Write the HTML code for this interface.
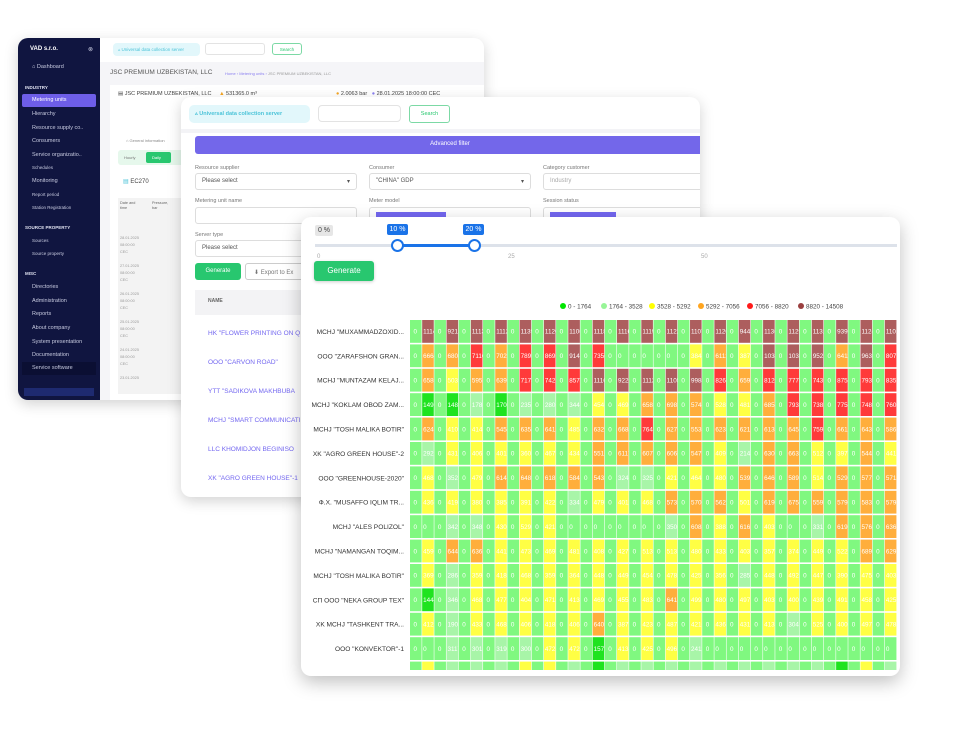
<!DOCTYPE html>
<html><head><meta charset="utf-8">
<style>
*{box-sizing:border-box;margin:0;padding:0}
body{width:960px;height:740px;background:#fff;position:relative;overflow:hidden;font-family:"Liberation Sans",sans-serif;color:#444}
.abs{position:absolute}
.panel{position:absolute;background:#fff;border-radius:10px;box-shadow:0 4px 14px rgba(0,0,0,.18);overflow:hidden}
.side{position:absolute;left:0;top:0;width:82px;height:100%;background:#101540;color:#c8cbe0;font-size:5.5px}
.side div{position:absolute;left:14px;white-space:nowrap}
.side .sec{font-size:4.5px;font-weight:bold;left:7px;color:#e0e2f0}
.lbl{font-size:5.5px;color:#777;position:absolute}
.sel{position:absolute;border:1px solid #ddd;border-radius:3px;font-size:6px;color:#555;padding:4px 6px;background:#fff}
.link{position:absolute;font-size:6.5px;color:#7367f0;white-space:nowrap}
.badge{position:absolute;height:11px;border-radius:2px;font-size:7px;text-align:center;line-height:11px}
</style></head><body>

<!-- Panel A -->
<div class="panel" style="left:18px;top:38px;width:466px;height:362px;background:#f5f5f8">
 <div class="side">
  <div style="top:8px;left:12px;font-size:6px;color:#fff;font-weight:bold">VAD s.r.o.</div>
  <div style="top:8px;left:70px;font-size:6px">⊗</div>
  <div style="top:26px">⌂ Dashboard</div>
  <div class="sec" style="top:47px">INDUSTRY</div>
  <div style="top:56px;left:4px;width:74px;height:13px;background:#6e5ee8;border-radius:2px;padding:3px 0 0 10px;color:#fff">Metering units</div>
  <div style="top:73px">Hierarchy</div>
  <div style="top:87px">Resource supply co..</div>
  <div style="top:100px">Consumers</div>
  <div style="top:114px">Service organizatio..</div>
  <div style="top:127px;font-size:4.5px">Schedules</div>
  <div style="top:140px">Monitoring</div>
  <div style="top:154px;font-size:4.5px">Report period</div>
  <div style="top:167px;font-size:4.5px">Station Registration</div>
  <div class="sec" style="top:187px">SOURCE PROPERTY</div>
  <div style="top:200px;font-size:4.5px">Sources</div>
  <div style="top:213px;font-size:4.5px">Source property</div>
  <div class="sec" style="top:233px">MISC</div>
  <div style="top:246px">Directories</div>
  <div style="top:260px">Administration</div>
  <div style="top:273px">Reports</div>
  <div style="top:287px">About company</div>
  <div style="top:301px">System presentation</div>
  <div style="top:314px">Documentation</div>
  <div style="top:324px;left:4px;width:74px;height:13px;background:#0b0f33;padding:3px 0 0 10px">Service software</div>
  <div style="top:350px;left:6px;width:70px;height:8px;background:#1e2a70"></div>
 </div>
 <div class="abs" style="left:82px;top:0;width:384px;height:24px;background:#fff"></div>
 <div class="abs" style="left:95px;top:5px;width:87px;height:13px;background:#e2f7fb;border-radius:4px;font-size:4.5px;color:#4bc3d8;padding:4px 5px">▵ Universal data collection server</div>
 <div class="abs" style="left:187px;top:5px;width:60px;height:12px;border:1px solid #e3e3e3;border-radius:3px;background:#fff"></div>
 <div class="abs" style="left:254px;top:5px;width:30px;height:12px;border:1px solid #7cd9a5;border-radius:3px;font-size:4.5px;color:#28c76f;text-align:center;padding-top:3px">Search</div>
 <div class="abs" style="left:92px;top:31px;font-size:6.5px;color:#555">JSC PREMIUM UZBEKISTAN, LLC</div>
 <div class="abs" style="left:207px;top:33px;font-size:4px;color:#8a7ff0">Home › Metering units › <span style="color:#999">JSC PREMIUM UZBEKISTAN, LLC</span></div>
 <div class="abs" style="left:92px;top:47px;width:374px;height:320px;background:#fff"></div>
 <div class="abs" style="left:100px;top:53px;font-size:5.5px;color:#444">▤ JSC PREMIUM UZBEKISTAN, LLC &nbsp;&nbsp;&nbsp; <span style="color:#f5a623">▲</span> 531365.0 m³</div>
 <div class="abs" style="left:318px;top:53px;font-size:5.5px;color:#444"><span style="color:#f5a623">●</span> 2.0063 bar &nbsp; <span style="color:#8a7ff0">●</span> 28.01.2025 18:00:00 CEC</div>
 <div class="abs" style="left:108px;top:100px;font-size:4px;color:#888">⌂ General information</div>
 <div class="abs" style="left:100px;top:112px;width:70px;height:15px;background:#e6f8ec;border-radius:3px"></div>
 <div class="abs" style="left:106px;top:117px;font-size:4px;color:#777">Hourly</div>
 <div class="abs" style="left:128px;top:114px;width:25px;height:11px;background:#28c76f;border-radius:2px;font-size:4px;color:#fff;padding:3px 6px">Daily</div>
 <div class="abs" style="left:105px;top:140px;font-size:6px;color:#4bc3d8">▤ <span style="color:#444">EC270</span></div>
 <div class="abs" style="left:100px;top:160px;width:63px;height:196px;background:#f3f3f3"></div>
 <div class="abs" style="left:102px;top:163px;font-size:3.8px;color:#666;line-height:5px">Date and<br>time</div>
 <div class="abs" style="left:134px;top:163px;font-size:3.8px;color:#666;line-height:5px">Pressure,<br>bar</div>
 <div class="abs" style="left:102px;top:197px;font-size:3.8px;color:#999;line-height:7px">28.01.2025<br>08:00:00<br>CEC<br><br>27.01.2025<br>08:00:00<br>CEC<br><br>26.01.2025<br>08:00:00<br>CEC<br><br>25.01.2025<br>08:00:00<br>CEC<br><br>24.01.2025<br>08:00:00<br>CEC<br><br>23.01.2025</div>
</div>

<!-- Panel B -->
<div class="panel" style="left:181px;top:97px;width:519px;height:400px">
 <div class="abs" style="left:8px;top:8px;width:121px;height:18px;background:#e2f7fb;border-radius:5px;font-size:5.5px;font-weight:bold;color:#4bc3d8;padding:6px 6px">▵ Universal data collection server</div>
 <div class="abs" style="left:137px;top:8px;width:83px;height:17px;border:1px solid #e3e3e3;border-radius:4px"></div>
 <div class="abs" style="left:228px;top:8px;width:41px;height:18px;border:1px solid #7cd9a5;border-radius:3px;font-size:5.5px;color:#28c76f;text-align:center;padding-top:5px">Search</div>
 <div class="abs" style="left:0;top:32px;width:519px;height:4px;background:#f3f3f6"></div>
 <div class="abs" style="left:14px;top:39px;width:510px;height:18px;background:#7367ea;border-radius:3px;color:#fff;font-size:6px;text-align:center;padding-top:5px">Advanced filter</div>
 <div class="lbl" style="left:14px;top:68px">Resource supplier</div>
 <div class="lbl" style="left:188px;top:68px">Consumer</div>
 <div class="lbl" style="left:362px;top:68px">Category customer</div>
 <div class="sel" style="left:14px;top:76px;width:162px;height:17px">Please select<span style="float:right">▾</span></div>
 <div class="sel" style="left:188px;top:76px;width:162px;height:17px">"CHINA" GDP<span style="float:right">▾</span></div>
 <div class="sel" style="left:362px;top:76px;width:162px;height:17px;color:#aaa">Industry</div>
 <div class="lbl" style="left:14px;top:101px">Metering unit name</div>
 <div class="lbl" style="left:188px;top:101px">Meter model</div>
 <div class="lbl" style="left:362px;top:101px">Session status</div>
 <div class="sel" style="left:14px;top:110px;width:162px;height:17px"></div>
 <div class="sel" style="left:188px;top:110px;width:162px;height:17px"><span style="background:#7367f0;display:inline-block;width:70px;height:5px"></span></div>
 <div class="sel" style="left:362px;top:110px;width:162px;height:17px"><span style="background:#7367f0;display:inline-block;width:66px;height:5px"></span></div>
 <div class="lbl" style="left:14px;top:135px">Server type</div>
 <div class="sel" style="left:14px;top:143px;width:110px;height:17px">Please select</div>
 <div class="abs" style="left:14px;top:166px;width:46px;height:17px;background:#28c76f;border-radius:3px;color:#fff;font-size:6px;text-align:center;padding-top:5px">Generate</div>
 <div class="abs" style="left:64px;top:166px;width:60px;height:17px;border:1px solid #ccc;border-radius:3px;color:#777;font-size:6px;padding:5px 8px;white-space:nowrap">⬇ Export to Ex</div>
 <div class="abs" style="left:14px;top:193px;width:110px;height:25px;background:#f3f3f5;font-size:5px;font-weight:bold;color:#666;padding:8px 13px">NAME</div>
 <div class="link" style="left:27px;top:233px">HK "FLOWER PRINTING ON Q</div>
 <div class="link" style="left:27px;top:262px">OOO "CARVON ROAD"</div>
 <div class="link" style="left:27px;top:291px">YTT "SADIKOVA MAKHBUBA</div>
 <div class="link" style="left:27px;top:320px">MCHJ "SMART COMMUNICATI</div>
 <div class="link" style="left:27px;top:349px">LLC KHOMIDJON BEGINISO</div>
 <div class="link" style="left:27px;top:378px">XK "AGRO GREEN HOUSE"-1</div>
</div>

<!-- Panel C -->
<div class="panel" style="left:301px;top:217px;width:599px;height:459px;box-shadow:0 6px 18px rgba(0,0,0,.25)">
 <div class="badge" style="left:14px;top:8px;width:18px;background:#e6e6e6;color:#444">0 %</div>
 <div class="badge" style="left:86px;top:7px;width:21px;background:#1a73e8;color:#fff">10 %</div>
 <div class="badge" style="left:162px;top:7px;width:21px;background:#1a73e8;color:#fff">20 %</div>
 <div class="abs" style="left:14px;top:27px;width:582px;height:3px;background:#dde2ea"></div>
 <div class="abs" style="left:96px;top:27px;width:77px;height:3px;background:#1a73e8"></div>
 <div class="abs" style="left:90px;top:22px;width:13px;height:13px;border:2.5px solid #1a73e8;border-radius:50%;background:#fff"></div>
 <div class="abs" style="left:167px;top:22px;width:13px;height:13px;border:2.5px solid #1a73e8;border-radius:50%;background:#fff"></div>
 <div class="abs" style="left:16px;top:37px;font-size:6px;color:#aaa">0</div>
 <div class="abs" style="left:207px;top:37px;font-size:6px;color:#aaa">25</div>
 <div class="abs" style="left:400px;top:37px;font-size:6px;color:#aaa">50</div>
 <div class="abs" style="left:13px;top:44px;width:60px;height:20px;background:#28c76f;border-radius:3px;color:#fff;font-size:8px;text-align:center;padding-top:5px;box-shadow:0 1px 3px rgba(0,0,0,.2)">Generate</div>
</div>

<svg id="hm" class="abs" style="left:0;top:0" width="960" height="740"></svg>

<script>
const rowLabels=['MCHJ "MUXAMMADZOXID...','OOO "ZARAFSHON GRAN...','MCHJ "MUNTAZAM KELAJ...','MCHJ "KOKLAM OBOD ZAM...','MCHJ "TOSH MALIKA BOTIR"','XK "AGRO GREEN HOUSE"-2','OOO "GREENHOUSE-2020"','Ф.X. "MUSAFFO IQLIM TR...','MCHJ "ALES POLIZOL"','MCHJ "NAMANGAN TOQIM...','MCHJ "TOSH MALIKA BOTIR"','СП OOO "NEKA GROUP TEX"','XK MCHJ "TASHKENT TRA...','OOO "KONVEKTOR"-1',''];
const legendLabels=['0 - 1764','1764 - 3528','3528 - 5292','5292 - 7056','7056 - 8820','8820 - 14508'];
const binEdges=[1764,3528,5292,7056,8820,14508];
const binColors=['#1fe31f','#a8f5a8','#ffff44','#ffae3c','#ff3a3a','#ad5e5e'];
const zeroColor='#80f880';
const r1=[11140,9218,11139,11125,11391,11206,11068,11183,11161,11190,11228,11070,11209,9444,11360,11290,11316,9393,11247,11010];
const r2=[6664,6808,7110,7020,7893,8696,9148,7350,0,0,0,3848,6111,3877,10383,10363,9526,6411,9635,8077];
const r3=[6586,5037,5957,6396,7174,7427,8574,11162,9226,11127,11058,9988,8268,6591,8120,7774,7435,8756,7931,8352];
const r4=[1495,1485,1786,1702,2355,2801,3446,4540,4695,6581,6983,5745,5286,4813,6858,7933,7386,7751,7486,7605];
const r5=[6240,4109,4142,5454,6354,6419,4856,6321,6681,7646,6270,5539,6232,6216,6132,6457,7597,6618,6436,5862];
const r6=[2925,4314,4063,4010,3605,4670,4347,5516,6117,6075,6066,5470,4090,2144,6307,6632,5124,3978,5442,4418];
const r7=[4686,3524,4798,6145,6481,6187,5845,5435,3247,3251,4213,4646,4809,5396,6461,5892,5146,5297,5771,5711];
const r8=[4367,4193,3801,3856,3912,4221,3341,4791,4011,4681,5731,5707,5620,5018,6194,6752,5591,5794,5832,5799];
const r9=[0,3424,3482,4303,5290,4218,0,0,0,0,3500,6082,3881,6161,4033,0,3313,6197,5761,6362];
const r10=[4595,6442,6360,4411,4739,4690,4815,4088,4272,5131,5138,4804,4339,4032,3572,3744,4496,5222,6891,6292];
const r11=[3695,2861,3595,4188,4686,3594,3648,4481,4493,4548,4786,4257,3565,2853,4488,4928,4476,3909,4758,4035];
const r12=[1444,3461,4684,4771,4042,4716,4134,4695,4551,4838,6418,4991,4806,4978,4032,4005,4394,4917,4581,4251];
const r13=[4122,1903,4337,4683,4069,4186,4066,6409,3871,4233,4874,4210,4366,4315,4136,3042,5251,4009,4977,4780];
const r14=[0,3117,3016,3190,3005,4724,4728,1571,4134,4252,4965,2411,0,0,0,0,0,0,0,0];
const r15=[4100,2600,2700,2500,4200,4300,2800,1300,2600,2700,2600,2500,2600,2700,2600,2500,2400,1200,4100,2600];
const rows=[r1,r2,r3,r4,r5,r6,r7,r8,r9,r10,r11,r12,r13,r14,r15];

const NS='http://www.w3.org/2000/svg';
const svg=document.getElementById('hm');
const X0=410,Y0=320,PAIR=24.35,CW=11.6,RH=24.4,CH=22.8,CLIPR=898,CLIPB=670;
const xScale=(i,k)=>X0+i*PAIR+k*(PAIR/2);
const yScale=r=>Y0+r*RH;
function colorFor(v){if(v===0)return zeroColor;for(let b=0;b<binEdges.length;b++){if(v<binEdges[b])return binColors[b];}return binColors[5];}
function mk(tag,attrs){const e=document.createElementNS(NS,tag);for(const k in attrs)e.setAttribute(k,attrs[k]);return e;}
const defs=mk('defs',{});const cp=mk('clipPath',{id:'c'});cp.appendChild(mk('rect',{x:X0-1,y:Y0-1,width:CLIPR-X0+1,height:CLIPB-Y0+1}));defs.appendChild(cp);svg.appendChild(defs);
const g=mk('g',{'clip-path':'url(#c)'});svg.appendChild(g);
rows.forEach((vals,r)=>{
  vals.forEach((v,i)=>{
    [0,v].forEach((val,k)=>{
      const x=xScale(i,k),y=yScale(r);
      const c=mk('rect',{x:x,y:y,width:CW,height:CH,fill:colorFor(val)});
      
      
      g.appendChild(c);
      if(r<14){
        const t=mk('text',{x:x+(k?1:3.5),y:y+CH/2+2.3,'font-size':'6.3',fill:'#fff','font-family':'Liberation Sans, sans-serif'});
        t.textContent=String(val);
        
        
        g.appendChild(t);
      }
    });
  });
  if(rowLabels[r]){
    const l=mk('text',{x:404,y:yScale(r)+CH/2+2.5,'text-anchor':'end','font-size':'6.6',fill:'#333','font-family':'Liberation Sans, sans-serif'});
    l.textContent=rowLabels[r];
    
    
    svg.appendChild(l);
  }
});
const legX=[563,604,652,701,750,801];
const legDot=['#00e600','#98f598','#ffff00','#ffa51f','#ff1a1a','#9a3f3f'];
legendLabels.forEach((s,i)=>{
  const d=mk('circle',{cx:legX[i],cy:306,r:3,fill:legDot[i]});
  
  
  svg.appendChild(d);
  const t=mk('text',{x:legX[i]+5,y:308.5,'font-size':'6.3',fill:'#444','font-family':'Liberation Sans, sans-serif'});
  t.textContent=s;
  
  
  svg.appendChild(t);
});
</script>
</body></html>
